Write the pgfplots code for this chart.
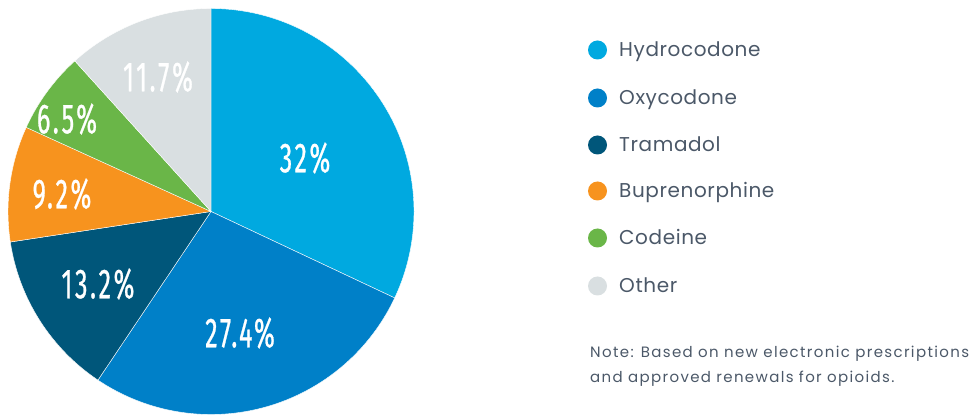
\documentclass[border=0pt]{standalone}
\usepackage{pgfplots}
\pgfplotsset{compat=1.18}
\usepackage{fontspec}
\setmainfont{Poppins}
\newfontfamily\condfont[FakeStretch=0.6,LetterSpace=6,FakeBold=0.6]{Fira Sans}
\newfontfamily\legfont[LetterSpace=3]{Poppins}
\newfontfamily\notefont[LetterSpace=9]{Poppins}

\definecolor{hydro}{RGB}{0,169,224}
\definecolor{oxy}{RGB}{0,128,200}
\definecolor{trama}{RGB}{0,86,122}
\definecolor{bupre}{RGB}{247,147,30}
\definecolor{codeine}{RGB}{106,182,72}
\definecolor{other}{RGB}{217,223,225}
\definecolor{legtext}{RGB}{75,88,104}

% shares in percent, clockwise from 12 o'clock
\def\pA{32}\def\pB{27.4}\def\pC{13.2}\def\pD{9.2}\def\pE{6.5}\def\pF{11.7}

\begin{document}
\begin{tikzpicture}
\begin{axis}[
    width=969bp, height=418bp, scale only axis,
    xmin=0, xmax=969, ymin=0, ymax=418,
    axis lines=none, clip=false,
]
% pie slices (centre 211,206.5 ; radius 203)
\pgfmathsetmacro\aA{90}
\pgfmathsetmacro\aB{\aA-3.6*\pA}
\pgfmathsetmacro\aC{\aB-3.6*\pB}
\pgfmathsetmacro\aD{\aC-3.6*\pC}
\pgfmathsetmacro\aE{\aD-3.6*\pD}
\pgfmathsetmacro\aF{\aE-3.6*\pE}
\pgfmathsetmacro\aG{\aF-3.6*\pF}
\edef\slices{%
\noexpand\fill[hydro,draw=white,line width=0.4pt] (axis cs:211,206.5) -- ++(\aA:203bp) arc[start angle=\aA, end angle=\aB, radius=203bp] -- cycle;
\noexpand\fill[oxy,draw=white,line width=0.4pt] (axis cs:211,206.5) -- ++(\aB:203bp) arc[start angle=\aB, end angle=\aC, radius=203bp] -- cycle;
\noexpand\fill[trama,draw=white,line width=0.4pt] (axis cs:211,206.5) -- ++(\aC:203bp) arc[start angle=\aC, end angle=\aD, radius=203bp] -- cycle;
\noexpand\fill[bupre,draw=white,line width=0.4pt] (axis cs:211,206.5) -- ++(\aD:203bp) arc[start angle=\aD, end angle=\aE, radius=203bp] -- cycle;
\noexpand\fill[codeine,draw=white,line width=0.4pt] (axis cs:211,206.5) -- ++(\aE:203bp) arc[start angle=\aE, end angle=\aF, radius=203bp] -- cycle;
\noexpand\fill[other,draw=white,line width=0.4pt] (axis cs:211,206.5) -- ++(\aF:203bp) arc[start angle=\aF, end angle=\aG, radius=203bp] -- cycle;
}
\slices

% slice labels
\tikzset{plab/.style={text=white, font=\condfont\fontsize{42bp}{42bp}\selectfont, inner sep=0pt}}
\node[plab] at (axis cs:305,260) {32\%};
\node[plab] at (axis cs:240,85) {27.4\%};
\node[plab] at (axis cs:98,134) {13.2\%};
\node[plab] at (axis cs:62,224) {9.2\%};
\node[plab] at (axis cs:67,299) {6.5\%};
\node[plab] at (axis cs:158,341) {11.7\%};

% legend
\tikzset{ltxt/.style={text=legtext, font=\legfont\fontsize{20bp}{20bp}\selectfont, anchor=base west, inner sep=0pt}}
\fill[hydro]   (axis cs:597.5,368) circle[radius=9.5bp];
\fill[oxy]     (axis cs:597.5,320) circle[radius=9.5bp];
\fill[trama]   (axis cs:597.5,273) circle[radius=9.5bp];
\fill[bupre]   (axis cs:597.5,227) circle[radius=9.5bp];
\fill[codeine] (axis cs:597.5,180) circle[radius=9.5bp];
\fill[other]   (axis cs:597.5,132) circle[radius=9.5bp];
\node[ltxt] at (axis cs:619,361) {Hydrocodone};
\node[ltxt] at (axis cs:619,313) {Oxycodone};
\node[ltxt] at (axis cs:619,266) {Tramadol};
\node[ltxt] at (axis cs:619,220) {Buprenorphine};
\node[ltxt] at (axis cs:619,173) {Codeine};
\node[ltxt] at (axis cs:619,125) {Other};

% note
\tikzset{ntxt/.style={text=legtext, font=\notefont\fontsize{15bp}{15bp}\selectfont, anchor=base west, inner sep=0pt}}
\node[ntxt] at (axis cs:590,60) {Note: Based on new electronic prescriptions};
\node[ntxt] at (axis cs:590,35) {and approved renewals for opioids.};
\end{axis}
\pgfresetboundingbox
\useasboundingbox (current axis.south west) rectangle (current axis.north east);
\end{tikzpicture}
\end{document}
